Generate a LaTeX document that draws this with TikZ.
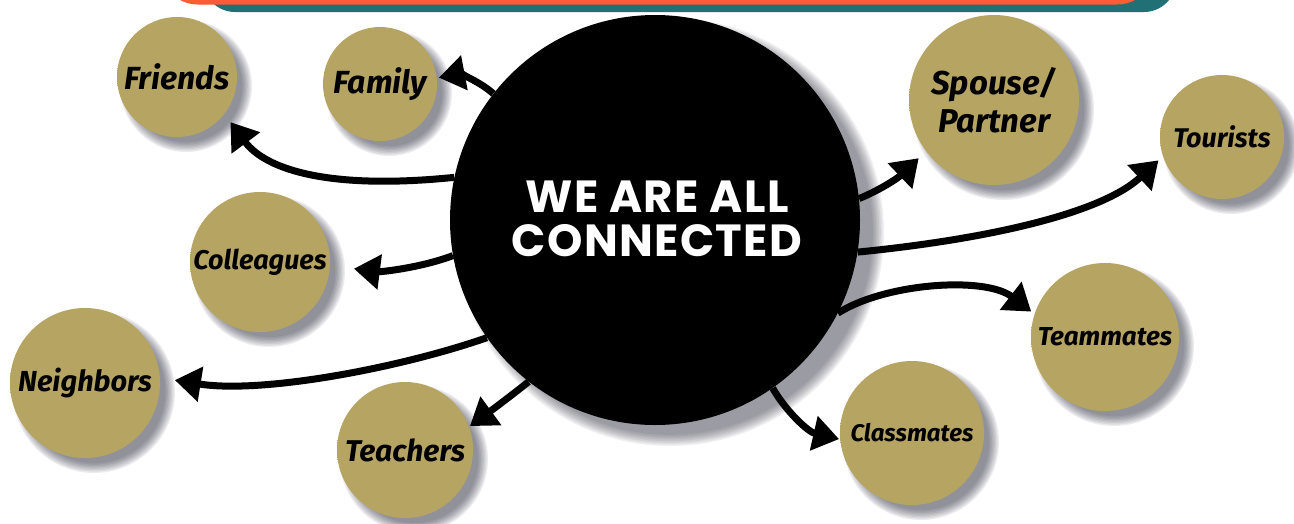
\documentclass[tikz,border=0pt]{standalone}
\usepackage{fontspec}
\setmainfont{Fira Sans}
\newfontfamily\labfont{Fira Sans}
\newfontfamily\titlefont{Poppins}[LetterSpace=3]
\usetikzlibrary{arrows.meta}
\definecolor{gA}{RGB}{182,164,98}
\definecolor{gB}{RGB}{160,143,80}
\definecolor{gC}{RGB}{110,96,50}
\definecolor{orc}{RGB}{252,92,52}
\definecolor{tealc}{RGB}{32,112,118}
\definecolor{shcol}{RGB}{55,55,72}
\pgfdeclareradialshading{bubshade}{\pgfpoint{0bp}{0bp}}{color(0bp)=(gA); color(32bp)=(gA); color(44bp)=(gB); color(50bp)=(gC)}
\pgfdeclarelayer{background}
\pgfsetlayers{background,main}
\newcommand\lf[2]{\labfont\bfseries\itshape\fontsize{#1}{#2}\selectfont}
\tikzset{
  bub/.style={circle, shade, shading=bubshade, minimum size=#1, inner sep=0pt, align=center, text=black},
  arr/.style={line width=7pt, black, -{Triangle[length=26pt,width=34pt]}},
}
\begin{document}
\begin{tikzpicture}[x=1pt,y=-1pt]
\useasboundingbox (0,0) rectangle (1294,523);
% central circle
\node[circle, fill=black, minimum size=410pt, inner sep=0pt] (C) at (655,220) {};
\node[text=white, align=center, font=\titlefont\bfseries\fontsize{45}{44}\selectfont] (title) at (657,219) {WE ARE ALL\\CONNECTED};
% bubbles
\node[bub=120pt, font=\lf{32}{34}] (friends) at (177,77) {Friends};
\node[bub=114pt, font=\lf{32}{34}] (family) at (380,84) {Family};
\node[bub=170pt, font=\lf{33}{38}] (spouse) at (994,100) {Spouse/\\Partner};
\node[bub=124pt, font=\lf{27}{30}] (tourists) at (1222,137) {Tourists};
\node[bub=140pt, font=\lf{27}{30}] (colleagues) at (260,262) {Colleagues};
\node[bub=150pt, font=\lf{29}{30}] (neighbors) at (85,383) {Neighbors};
\node[bub=136pt, font=\lf{30}{30}] (teachers) at (405,450) {Teachers};
\node[bub=144pt, font=\lf{24}{30}] (classmates) at (912,433) {Classmates};
\node[bub=148pt, font=\lf{26}{30}] (teammates) at (1105,337) {Teammates};
% background: banner and shadows
\begin{pgfonlayer}{background}
\fill[white] (0,0) rectangle (1294,523);
\fill[tealc, rounded corners=32pt] (203,-60) rectangle (1176,12);
\fill[orc, rounded corners=38pt] (160,-60) rectangle (1155,4.5);
\foreach \k in {0,...,7}
  \fill[shcol, opacity=0.08] ([shift={(15,12)}]C.center) circle[radius={(205+9-\k*1.6)*1pt}];
\foreach \n/\r in {friends/60,family/57,spouse/85,tourists/62,colleagues/70,neighbors/75,teachers/68,classmates/72,teammates/74}
  \foreach \k in {0,...,7}
    \fill[shcol, opacity=0.09] ([shift={(9,9)}]\n.center) circle[radius={(\r+6-\k*1.4)*1pt}];
\end{pgfonlayer}
% arrows
\draw[arr, shorten >=2pt] (C.142) .. controls (478,80) and (458,74) .. (family.6);
\draw[arr, shorten >=10pt] (C.168) .. controls (330,190) and (266,170) .. (friends.-38);
\draw[arr, shorten >=24pt] (C.190) .. controls (420,268) and (380,272) .. (colleagues.-3);
\draw[arr, shorten >=15pt] (C.215) .. controls (400,368) and (262,394) .. (neighbors.4);
\draw[arr, shorten >=1pt] (C.232) .. controls (512,395) and (492,410) .. (teachers.20);
\draw[arr, shorten >=1pt] (C.-55) .. controls (785,410) and (808,432) .. (classmates.185);
\draw[arr, shorten >=4pt] (C.-27) .. controls (885,283) and (985,276) .. (teammates.162);
\draw[arr, shorten >=6pt] (C.-9) .. controls (980,240) and (1100,215) .. (tourists.198);
\draw[arr, shorten >=10pt] (C.6.5) .. controls (880,190) and (898,178) .. (spouse.217);
\end{tikzpicture}
\end{document}
